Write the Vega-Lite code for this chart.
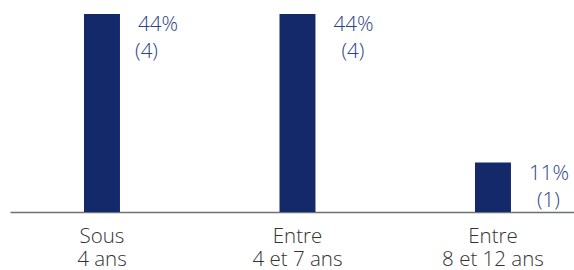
{
  "$schema": "https://vega.github.io/schema/vega-lite/v6.json",
  "width": 564,
  "height": 198,
  "autosize": "none",
  "padding": {"left": 10, "top": 14, "right": 0, "bottom": 58},
  "background": "white",
  "config": {
    "view": {"stroke": null},
    "font": "Open Sans"
  },
  "data": {
    "values": [
      {"groupe": "Sous\n4 ans", "pct": 44.4, "label": "44%", "n": "(4)"},
      {"groupe": "Entre\n4 et 7 ans", "pct": 44.4, "label": "44%", "n": "(4)"},
      {"groupe": "Entre\n8 et 12 ans", "pct": 11.1, "label": "11%", "n": "(1)"}
    ]
  },
  "encoding": {
    "x": {
      "field": "groupe",
      "type": "nominal",
      "sort": null,
      "scale": {"paddingInner": 0.816, "paddingOuter": 0.3505, "align": 0.54},
      "axis": {
        "title": null,
        "labelAngle": 0,
        "ticks": false,
        "domainColor": "#6e7176",
        "domainWidth": 1.5,
        "labelFontSize": 20.5,
        "labelFont": "Open Sans",
        "labelFontWeight": 350,
        "labelColor": "#333333",
        "labelPadding": 14,
        "labelLineHeight": 23,
        "labelExpr": "split(datum.label, '\\n')"
      }
    },
    "y": {
      "field": "pct",
      "type": "quantitative",
      "scale": {"domain": [0, 44.4]},
      "axis": null
    }
  },
  "layer": [
    {"mark": {"type": "bar", "color": "#13296a"}},
    {
      "mark": {"type": "text", "align": "center", "baseline": "alphabetic", "dx": 38, "dy": 17, "fontSize": 20.5, "fontWeight": 350, "color": "#2a4286"},
      "encoding": {"x": {"field": "groupe", "type": "nominal", "sort": null, "bandPosition": 1}, "text": {"field": "label"}}
    },
    {
      "transform": [{"filter": "datum.groupe != 'Sous\\n4 ans'"}],
      "mark": {"type": "text", "align": "center", "baseline": "alphabetic", "dx": 37.5, "dy": 44, "fontSize": 20.5, "fontWeight": 350, "color": "#2a4286"},
      "encoding": {"x": {"field": "groupe", "type": "nominal", "sort": null, "bandPosition": 1}, "text": {"field": "n"}}
    },
    {
      "transform": [{"filter": "datum.groupe == 'Sous\\n4 ans'"}],
      "mark": {"type": "text", "align": "center", "baseline": "alphabetic", "dx": 26.5, "dy": 44, "fontSize": 20.5, "fontWeight": 350, "color": "#2a4286"},
      "encoding": {"x": {"field": "groupe", "type": "nominal", "sort": null, "bandPosition": 1}, "text": {"field": "n"}}
    }
  ]
}
